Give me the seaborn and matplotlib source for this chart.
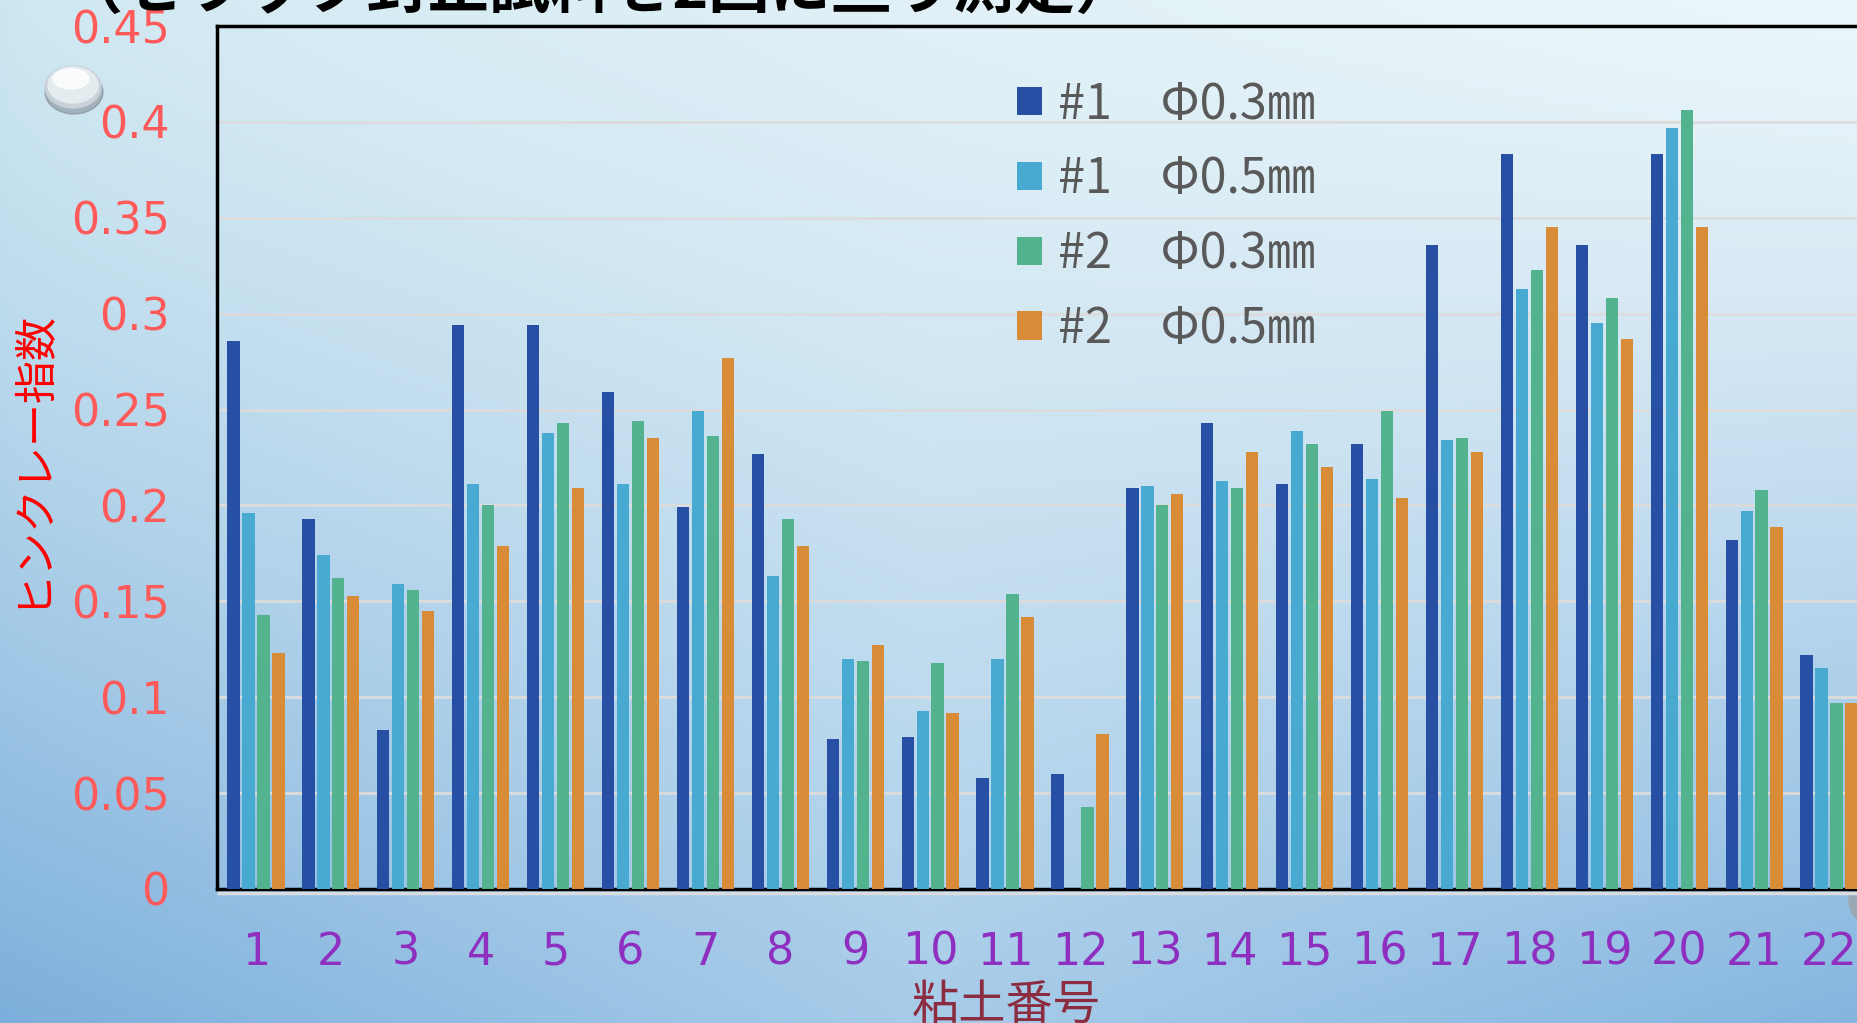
import numpy as np
import pandas as pd
import matplotlib
matplotlib.use("Agg")
import matplotlib.pyplot as plt
from matplotlib.patches import Ellipse, Patch
from matplotlib.colors import to_rgb
import seaborn as sns

# ---- data -------------------------------------------------------------
clay_ids = [str(i) for i in range(1, 23)]
series_labels = ["#1　Φ0.3㎜", "#1　Φ0.5㎜", "#2　Φ0.3㎜", "#2　Φ0.5㎜"]
s1_d03 = [0.286, 0.193, 0.083, 0.294, 0.294, 0.259, 0.199, 0.227, 0.078, 0.079, 0.058,
          0.060, 0.209, 0.243, 0.211, 0.232, 0.336, 0.383, 0.336, 0.383, 0.182, 0.122]
s1_d05 = [0.196, 0.174, 0.159, 0.211, 0.238, 0.211, 0.249, 0.163, 0.120, 0.093, 0.120,
          np.nan, 0.210, 0.213, 0.239, 0.214, 0.234, 0.313, 0.295, 0.397, 0.197, 0.115]
s2_d03 = [0.143, 0.162, 0.156, 0.200, 0.243, 0.244, 0.236, 0.193, 0.119, 0.118, 0.154,
          0.043, 0.200, 0.209, 0.232, 0.249, 0.235, 0.323, 0.308, 0.406, 0.208, 0.097]
s2_d05 = [0.123, 0.153, 0.145, 0.179, 0.209, 0.235, 0.277, 0.179, 0.127, 0.092, 0.142,
          0.081, 0.206, 0.228, 0.220, 0.204, 0.228, 0.345, 0.287, 0.345, 0.189, 0.097]
y_ticks = [0, 0.05, 0.1, 0.15, 0.2, 0.25, 0.3, 0.35, 0.4, 0.45]
y_tick_labels = ["0", "0.05", "0.1", "0.15", "0.2", "0.25", "0.3", "0.35", "0.4", "0.45"]
colors = ["#2750a5", "#48a9d1", "#53b38e", "#d98c37"]

title_text = "（セラック封止試料を2回に亘り測定）"
ylabel_text = "ヒンクレー指数"
xlabel_text = "粘土番号"

rows = []
for label, vals in zip(series_labels, [s1_d03, s1_d05, s2_d03, s2_d05]):
    for cid, v in zip(clay_ids, vals):
        rows.append({"clay": cid, "series": label, "value": v})
df = pd.DataFrame(rows)

# ---- figure -----------------------------------------------------------
W, H = 1858, 1023
fig = plt.figure(figsize=(W / 100, H / 100), dpi=100)

# gradient backdrop
bg = fig.add_axes([0, 0, 1, 1], zorder=-10)
nx, ny = 300, 200
xs = np.linspace(0, 1, nx)
ts = np.linspace(0, 1, ny) ** 1.3
TL, TR = np.array(to_rgb("#cce6f1")), np.array(to_rgb("#ebf6fa"))
BL, BM, BR = np.array(to_rgb("#7dafdc")), np.array(to_rgb("#a7cce9")), np.array(to_rgb("#84b5df"))
top = TL[None, :] * (1 - xs[:, None] ** 0.6) + TR[None, :] * xs[:, None] ** 0.6
bot = np.where(xs[:, None] < 0.5,
               BL[None, :] + (BM - BL)[None, :] * (xs[:, None] / 0.5),
               BM[None, :] + (BR - BM)[None, :] * ((xs[:, None] - 0.5) / 0.5))
grad = top[None, :, :] * (1 - ts[:, None, None]) + bot[None, :, :] * ts[:, None, None]
bg.imshow(grad, extent=[0, W, H, 0], aspect="auto", interpolation="bilinear")
bg.set_xlim(0, W)
bg.set_ylim(H, 0)
bg.axis("off")

# glossy button ornaments
bg.add_patch(Ellipse((74, 92), 58, 44, color="#6f757c", alpha=0.45))
bg.add_patch(Ellipse((73, 87), 56, 42, color="#c9d2d8"))
bg.add_patch(Ellipse((73, 85), 50, 36, color="#e4ecf0"))
bg.add_patch(Ellipse((71, 79), 36, 20, color="#ffffff", alpha=0.85))
bg.add_patch(Ellipse((1862, 900), 26, 40, color="#9aa3aa", alpha=0.8))
# light shadow line under the baseline
bg.plot([217, W], [893, 893], color="#d9dde2", lw=2.5, solid_capstyle="butt")

# ---- bars -------------------------------------------------------------
left_px, right_px, top_px, base_px = 217, 1868, 26, 889
ax = fig.add_axes([left_px / W, (H - base_px) / H,
                   (right_px - left_px) / W, (base_px - top_px) / H], zorder=1)
ax.patch.set_alpha(0)

sns.barplot(data=df, x="clay", y="value", hue="series", order=clay_ids,
            hue_order=series_labels, palette=colors, width=0.8, gap=0.18,
            saturation=1, legend=False, ax=ax, zorder=3)

ax.set_xlim(-0.52, 21.52)
ax.set_ylim(0, 0.45)
ax.set_yticks(y_ticks)
ax.set_yticklabels(y_tick_labels)
ax.yaxis.grid(True, color="#dcdcdc", lw=2, zorder=0)
ax.xaxis.grid(False)
ax.set_axisbelow(True)

for side in ["left", "top", "bottom"]:
    ax.spines[side].set_color("black")
    ax.spines[side].set_linewidth(2.5)
ax.spines["right"].set_visible(False)

ax.tick_params(axis="y", length=0, pad=34, labelsize=32, labelcolor="#ff5a5a")
ax.tick_params(axis="x", length=0, pad=30, labelsize=32, labelcolor="#8e2fc0")
for lab in ax.get_xticklabels() + ax.get_yticklabels():
    lab.set_family("DejaVu Sans")

ax.set_ylabel(ylabel_text, color="#ff0000", fontsize=31, family=["Noto Sans CJK JP"])
ax.yaxis.set_label_coords(-0.1, 0.5)
ax.set_xlabel(xlabel_text, color="#8b2c40", fontsize=34, family=["Noto Sans CJK JP"])
ax.xaxis.set_label_coords(0.478, -0.107)

handles = [Patch(facecolor=c, edgecolor="none") for c in colors]
leg = ax.legend(handles, series_labels, loc="upper left",
                bbox_to_anchor=(1017 / W, 1 - 80 / H), bbox_transform=fig.transFigure,
                frameon=False, borderaxespad=0, borderpad=0,
                handlelength=0.52, handleheight=0.52, handletextpad=0.33,
                labelspacing=0.52,
                prop={"family": ["Noto Sans CJK JP"], "size": 35})
for t in leg.get_texts():
    t.set_color("#595959")

fig.text(62 / W, 1 - 8 / H, title_text, fontsize=44, fontweight="bold",
         family=["Noto Sans CJK JP"], color="black", ha="left", va="baseline")

fig.savefig("out.png", dpi=100)
